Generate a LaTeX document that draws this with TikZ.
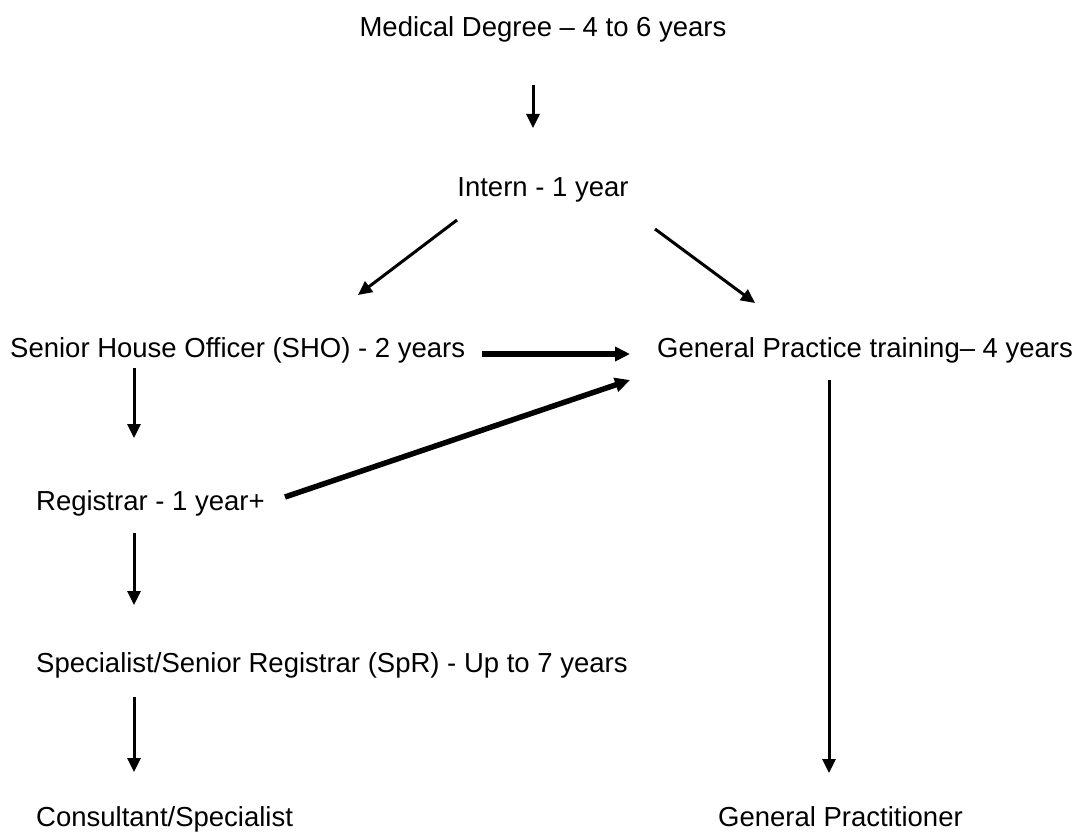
\documentclass[tikz,border=0pt]{standalone}
\usepackage{fontspec}
\setmainfont{Liberation Sans}
\usetikzlibrary{arrows.meta}

\begin{document}
\begin{tikzpicture}[x=1pt,y=-1pt,
  every node/.style={inner sep=0pt,anchor=base west,font=\fontsize{27.5}{33}\selectfont},
  thinarr/.style={line width=3pt,-{Triangle[length=14pt,width=13pt]}},
  thickarr/.style={line width=5.5pt,-{Triangle[length=15pt,width=14pt]}}]
\useasboundingbox (0,0) rectangle (1078,832);

\node[anchor=base] (medical) at (543,37) {Medical Degree -- 4 to 6 years};
\node[anchor=base] (intern) at (543,196) {Intern - 1 year};
\node (sho) at (10,357) {Senior House Officer (SHO) - 2 years};
\node (gptrain) at (657,357) {General Practice training-- 4 years};
\node (registrar) at (36,510) {Registrar - 1 year+};
\node (spr) at (36,672) {Specialist/Senior Registrar (SpR) - Up to 7 years};
\node (consultant) at (36,826) {Consultant/Specialist};
\node (gp) at (718,826) {General Practitioner};

\draw[thinarr] ([shift={(-10,48)}]medical.base) -- ([shift={(-10,-68)}]intern.base);
\draw[thinarr] ([shift={(-86,24)}]intern.base) -- ([shift={(348,-62)}]sho.base west);
\draw[thinarr] ([shift={(112,33)}]intern.base) -- ([shift={(98,-54)}]gptrain.base west);
\draw[thickarr] ([shift={(472,-3)}]sho.base west) -- ([shift={(-27,-3)}]gptrain.base west);
\draw[thinarr] ([shift={(124,11)}]sho.base west) -- ([shift={(98,-72)}]registrar.base west);
\draw[thickarr] ([shift={(249,-13)}]registrar.base west) -- ([shift={(-27,23)}]gptrain.base west);
\draw[thinarr] ([shift={(98,23)}]registrar.base west) -- ([shift={(98,-67)}]spr.base west);
\draw[thinarr] ([shift={(98,25)}]spr.base west) -- ([shift={(98,-54)}]consultant.base west);
\draw[thinarr] ([shift={(172,23)}]gptrain.base west) -- ([shift={(111,-53)}]gp.base west);
\end{tikzpicture}
\end{document}
